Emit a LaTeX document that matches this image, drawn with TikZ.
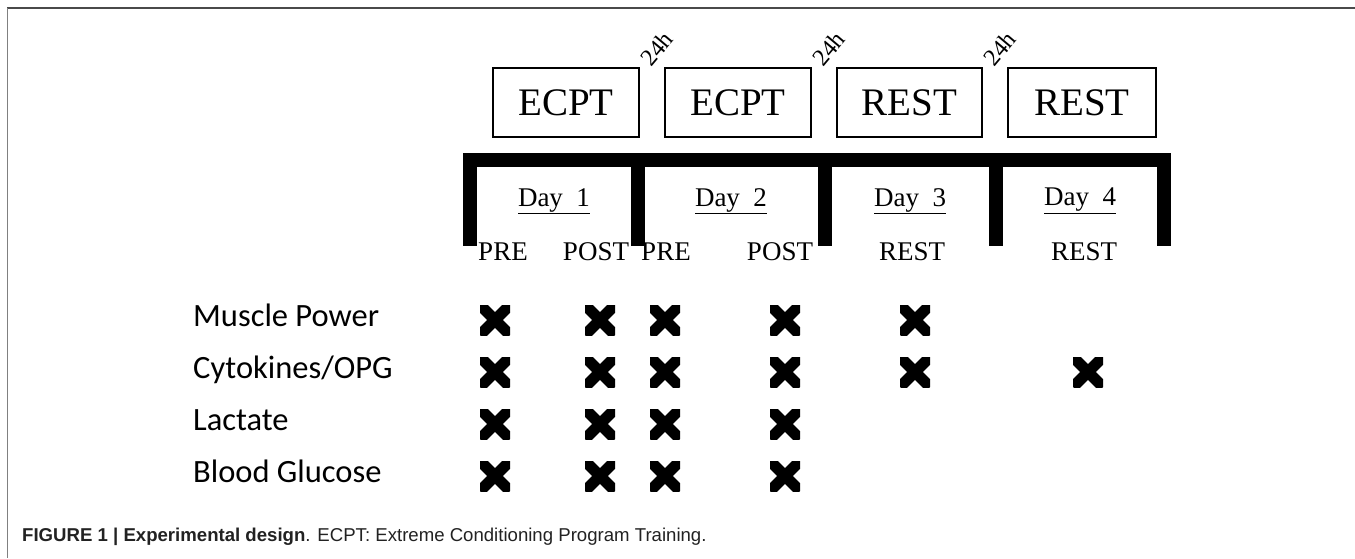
\documentclass[tikz,border=0pt]{standalone}
\usepackage{fontspec}
\setmainfont{Liberation Serif}
\newfontfamily\calibrifont{Carlito}
\newfontfamily\captionfont{Liberation Sans}
\usetikzlibrary{calc,math}
\definecolor{framegray}{HTML}{4A4A4A}
\definecolor{captiongray}{HTML}{222222}
\tikzset{session/.style={draw,line width=1.4pt,inner sep=0pt,minimum width=146pt,minimum height=69pt,font=\fontsize{39}{39}\selectfont}}
\tikzset{hours/.style={rotate=50,inner sep=0pt,font=\fontsize{24}{24}\selectfont}}
\tikzset{bracket/.style={line width=14pt,line join=miter,line cap=rect}}
\tikzset{daylabel/.style={inner sep=0pt,font=\fontsize{27}{27}\selectfont}}
\tikzset{timelabel/.style={inner sep=0pt,font=\fontsize{27}{27}\selectfont}}
\tikzset{measure/.style={anchor=west,inner sep=0pt,text height=1.4em,text depth=0.12em,font=\calibrifont\fontsize{32.5}{32.5}\selectfont}}
\tikzset{cross/.style={inner sep=0pt,minimum size=30pt,path picture={
    \draw[line width=11pt] (path picture bounding box.south west) -- (path picture bounding box.north east)
        (path picture bounding box.north west) -- (path picture bounding box.south east);}}}

\begin{document}
\begin{tikzpicture}[x=1pt,y=-1pt]
    \useasboundingbox (0,0) rectangle (1355,558);
    \fill [white] (0,0) rectangle (1355,558);
    % figure frame
    \draw [framegray,line width=2pt] (7,8) -- (1355,8);
    \draw [gray,line width=1.6pt] (7.5,8) -- (7.5,558);
    % sessions
    \node [session] (s1) at (566,102.5) {ECPT};
    \node [session] (s2) at (738,102.5) {ECPT};
    \node [session,minimum width=145pt] (s3) at (909.5,102.5) {REST};
    \node [session,minimum width=148pt] (s4) at (1082,102.5) {REST};
    \foreach \i in {1,2,3}
        \node [hours] (h\i) at ($(s\i.north east)+(17,-19)$) {24h};
    % days
    \draw [bracket] (470,239) -- (470,160) -- (1164,160) -- (1164,239)
        (637.5,160) -- (637.5,239) (824.5,160) -- (824.5,239) (995.5,160) -- (995.5,239);
    \foreach \i/\x in {1/554,2/731,3/910,4/1080}
        \node [daylabel] (day\i) at (\x,201) {\underline{Day~~\i}};
    \node [timelabel] (pre1) at (503,252) {PRE};
    \node [timelabel] (post1) at (596,252) {POST};
    \node [timelabel] (pre2) at (666,252) {PRE};
    \node [timelabel] (post2) at (780,252) {POST};
    \node [timelabel] (rest3) at (912,252) {REST};
    \node [timelabel] (rest4) at (1084,252) {REST};
    % measurements
    \node [measure] (m1) at (193,320) {Muscle Power};
    \node [measure] (m2) at (193,372) {Cytokines/OPG};
    \node [measure] (m3) at (193,424) {Lactate};
    \node [measure] (m4) at (193,476) {Blood Glucose};
    \foreach \c/\x in {a/495,b/600,c/665,d/785,e/915,f/1088}
        \coordinate (col\c) at (\x,0);
    \foreach \r/\cols in {1/{a,b,c,d,e},2/{a,b,c,d,e,f},3/{a,b,c,d},4/{a,b,c,d}}
        \foreach \c in \cols
            \node [cross] (x\r\c) at (col\c |- m\r) {};
    % caption
    \node [anchor=west,inner sep=0pt,captiongray,font=\captionfont\fontsize{18.6}{18.6}\selectfont] (caption) at (22,537)
        {\textbf{FIGURE 1 | Experimental design}. ECPT: Extreme Conditioning Program Training.};
\end{tikzpicture}
\end{document}
